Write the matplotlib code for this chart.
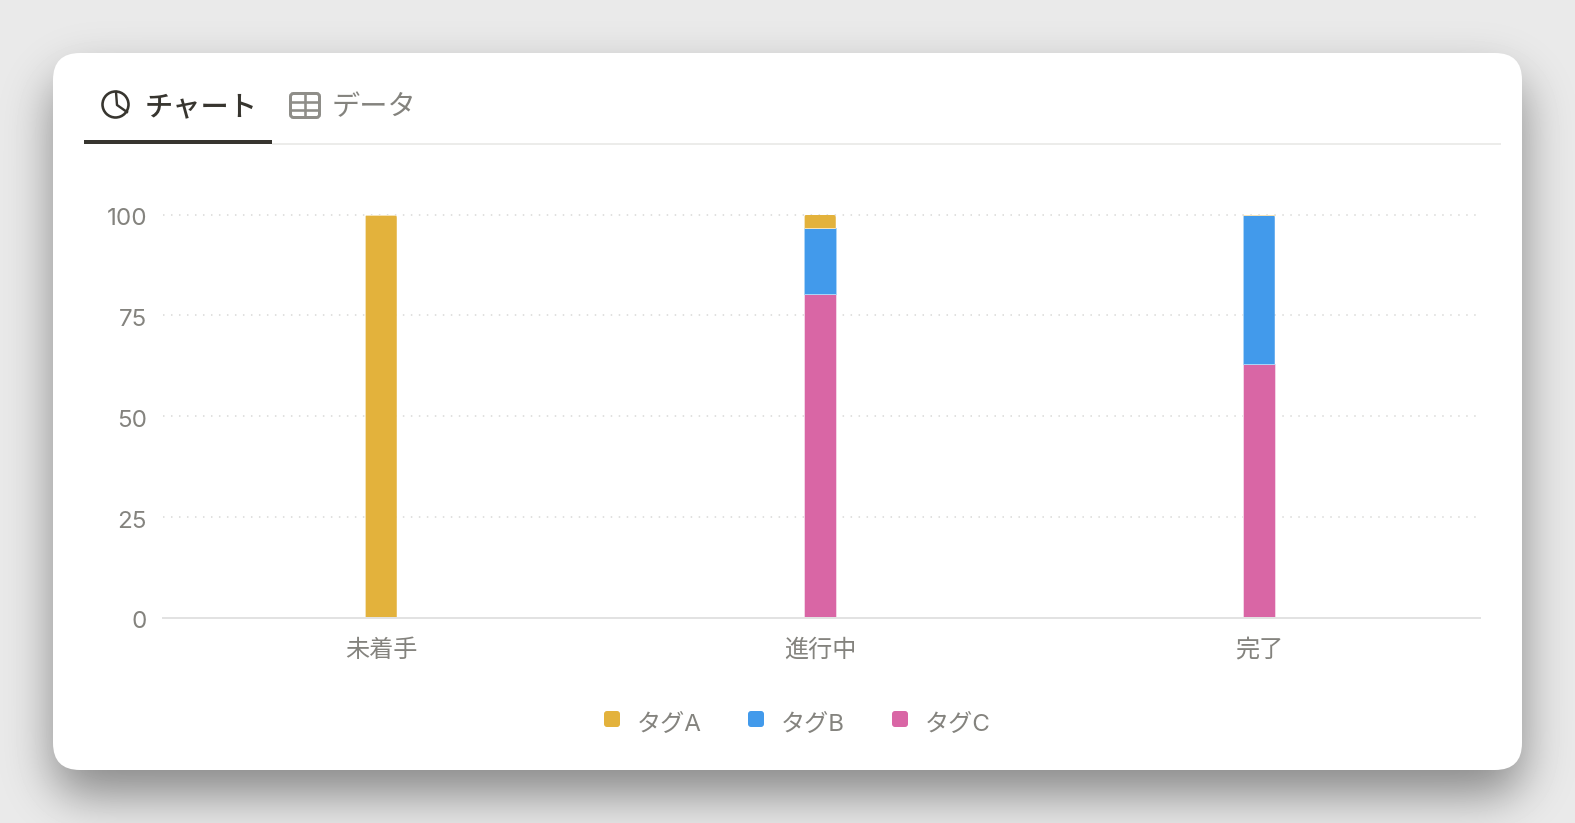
import numpy as np
import matplotlib
matplotlib.use("Agg")
import matplotlib.pyplot as plt
from matplotlib.patches import Circle, FancyBboxPatch
from matplotlib.transforms import IdentityTransform, ScaledTranslation

plt.rcParams['font.family'] = ['Inter', 'Noto Sans CJK JP']

categories = ["未着手", "進行中", "完了"]
tag_a = [100, 3.4, 0]
tag_b = [0, 16.2, 37]
tag_c = [0, 80.4, 63]
y_ticks = [0, 25, 50, 75, 100]
series_names = ["タグA", "タグB", "タグC"]

COL_A = "#e3b23c"
COL_B = "#429aeb"
COL_C = "#d966a5"
TEXT_DARK = "#37352f"
TEXT_GREY = "#84837e"
W, H = 1575, 823
px = 0.72  # one pixel in points at dpi 100

fig = plt.figure(figsize=(W / 100, H / 100), dpi=100)

# backdrop with the card's soft shadow
bg = fig.add_axes([0, 0, 1, 1], zorder=0)
bg.set_xlim(0, W)
bg.set_ylim(H, 0)
bg.axis("off")

# padded so the blur does not wrap round the picture edges
pad = 150
yy, xx = np.mgrid[-pad:H + pad, -pad:W + pad]
cx0, cx1, cy0, cy1, rad = 53, 1522, 53 + 24, 770 + 24, 27
dx = np.maximum(np.maximum(cx0 + rad - xx, xx - (cx1 - rad)), 0)
dy = np.maximum(np.maximum(cy0 + rad - yy, yy - (cy1 - rad)), 0)
mask = (np.hypot(dx, dy) <= rad).astype(float)
sigma = 24
fy = np.fft.fftfreq(mask.shape[0])[:, None]
fx = np.fft.rfftfreq(mask.shape[1])[None, :]
blur = np.fft.irfft2(np.fft.rfft2(mask) * np.exp(-2 * (np.pi * sigma) ** 2 * (fx ** 2 + fy ** 2)), s=mask.shape)
blur = blur[pad:-pad, pad:-pad]
shade = 234 * (1 - 0.42 * np.clip(blur, 0, 1)) / 255
bg.imshow(shade, cmap="gray", vmin=0, vmax=1, extent=(0, W, H, 0), aspect="auto", interpolation="nearest")
bg.add_patch(FancyBboxPatch((cx0 + rad, 53 + rad), cx1 - cx0 - 2 * rad, 770 - 53 - 2 * rad,
                            boxstyle="round,pad=%d" % rad, fc="white", ec="none"))

# tabs
bg.text(145, 115, "チャート", fontsize=20.3, fontweight="medium", color=TEXT_DARK, va="baseline", ha="left")
bg.text(331.5, 115, "データ", fontsize=20.3, color=TEXT_GREY, va="baseline", ha="left")
bg.plot([272, 1501], [143.5, 143.5], color="#ececea", lw=2 * px, solid_capstyle="butt")
bg.plot([84, 272], [142, 142], color=TEXT_DARK, lw=4 * px, solid_capstyle="butt")

# pie icon
bg.add_patch(Circle((115.5, 104.5), 13, fc="none", ec=TEXT_DARK, lw=2.6 * px))
bg.plot([116, 117, 127], [92, 105, 112], color=TEXT_DARK, lw=2.4 * px)

# table icon
bg.add_patch(FancyBboxPatch((293.5, 96.5), 23, 18, boxstyle="round,pad=3", fc="none", ec="#8f8e89", lw=3 * px))
bg.plot([290, 319], [102, 102], color="#8f8e89", lw=2.6 * px)
bg.plot([290, 319], [110, 110], color="#8f8e89", lw=2.6 * px)
bg.plot([304.5, 304.5], [93, 117], color="#8f8e89", lw=2.6 * px)

# legend
for name, col, sx in zip(series_names, [COL_A, COL_B, COL_C], [604, 748, 892]):
    bg.add_patch(FancyBboxPatch((sx + 3, 711 + 3), 10, 10, boxstyle="round,pad=3", fc=col, ec="none"))
    bg.text(sx + 32.5, 731, name, fontsize=17.4, color=TEXT_GREY, va="baseline", ha="left")

# the chart itself
ax = fig.add_axes([163 / W, 1 - 618 / H, (1480 - 163) / W, (618 - 214.5) / H], zorder=1)
ax.patch.set_alpha(0)
x = np.arange(len(categories))
bar_w = 0.072
c_bars = ax.bar(x, tag_c, bar_w, color=COL_C, edgecolor="#f3d3e5", linewidth=1 * px)
b_bars = ax.bar(x, tag_b, bar_w, bottom=tag_c, color=COL_B, edgecolor="#a9d3f7", linewidth=1 * px)
a_bars = ax.bar(x, tag_a, bar_w, bottom=np.add(tag_c, tag_b), color=COL_A, edgecolor="#f5e3b8", linewidth=1 * px)

ax.set_xlim(-0.4965, 2.5035)
ax.set_ylim(0, 100)
ax.set_xticks(x, categories)
ax.set_yticks(y_ticks)
ax.tick_params(axis="both", length=0, labelsize=17.4, labelcolor=TEXT_GREY)
ax.tick_params(axis="y", pad=11.5)
ax.tick_params(axis="x", pad=28)
shift_down = ScaledTranslation(0, -2 / 100, fig.dpi_scale_trans)
for lab in ax.get_yticklabels():
    lab.set_transform(lab.get_transform() + shift_down)
for lab in ax.get_xticklabels():
    lab.set_verticalalignment("baseline")
ax.set_axisbelow(True)
ax.grid(axis="y", color="#d8d8d6", lw=1.5 * px, linestyle=(0, (1, 4.33)), clip_on=False)
for side in ["top", "left", "right"]:
    ax.spines[side].set_visible(False)
ax.spines["bottom"].set_color("#e2e2e2")
ax.spines["bottom"].set_linewidth(2 * px)

# round the top corners of each stack
fig.canvas.draw()
for i, bar in enumerate(a_bars):
    top_bar = bar if tag_a[i] > 0 else b_bars[i]
    (x0, y0), (x1, y1) = ax.transData.transform(top_bar.get_bbox().get_points())
    clip = FancyBboxPatch((x0 + 3, y0 - 10), x1 - x0 - 6, y1 - y0 + 7, boxstyle="round,pad=3",
                          transform=IdentityTransform())
    top_bar.set_clip_path(clip)

fig.savefig("out.png", dpi=100)
